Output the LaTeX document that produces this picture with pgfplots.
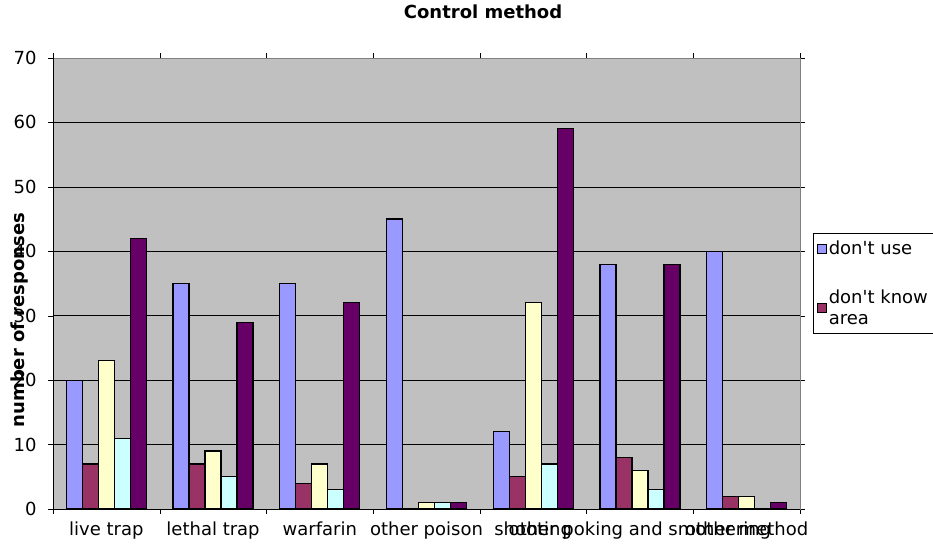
\documentclass[border=0pt]{standalone}
\usepackage{pgfplots}
\pgfplotsset{compat=1.18}
\usepackage{fontspec}
\setmainfont{DejaVu Sans}

\definecolor{cUse}{HTML}{9999FF}
\definecolor{cKnow}{HTML}{993366}
\definecolor{cThree}{HTML}{FFFFCC}
\definecolor{cFour}{HTML}{CCFFFF}
\definecolor{cFive}{HTML}{660066}
\definecolor{plotbg}{HTML}{C0C0C0}
\definecolor{frame}{HTML}{808080}

\begin{document}
\begin{tikzpicture}[font=\fontsize{18bp}{21bp}\selectfont]
\begin{axis}[
  at={(0,0)}, anchor=south west,
  scale only axis,
  width=747bp, height=451bp,
  ybar=0pt, bar width=0.15,
  xmin=-0.5, xmax=6.5, enlarge x limits=false,
  ymin=0, ymax=70, ytick={0,10,...,70},
  xtick={0,...,6},
  xticklabels={live trap,lethal trap,warfarin,other poison,shooting,other poking and smothering,other method},
  minor xtick={-0.5,0.5,...,6.5},
  major x tick style={draw=none},
  minor x tick style={black},
  major y tick style={black},
  tick align=outside,
  major tick length=5bp, minor tick length=5bp,
  ymajorgrids, major grid style={black, line width=0.7bp},
  axis background/.style={fill=plotbg},
  axis line style={frame, line width=0.8bp},
  /pgf/number format/assume math mode=true,
  ticklabel style={font=\fontsize{18bp}{21bp}\selectfont},
  xticklabel style={yshift=-4bp},
  yticklabel style={xshift=-8bp},
  title={\bfseries Control method},
  title style={at={(axis description cs:0.5757,1.089)}, anchor=center, font=\fontsize{18bp}{21bp}\selectfont},
  ylabel={\bfseries number of responses},
  ylabel style={at={(axis description cs:-0.0442,0.419)}, rotate=0, anchor=center, font=\fontsize{18bp}{21bp}\selectfont},
  every axis plot/.append style={draw=black, line width=1.2bp},
  legend style={at={(axis description cs:1.017,0.612)}, anchor=north west,
    draw=black, line width=0.6bp, fill=white,
    font=\fontsize{18bp}{21bp}\selectfont,
    row sep=29bp, inner xsep=4bp, inner ysep=6bp,
    cells={align=left, anchor=west}},
  legend cell align=left,
  legend image code/.code={\draw[#1, line width=0.8bp] (0bp,-4.5bp) rectangle (9bp,4.5bp);},
  after end axis/.code={
    \draw[black, line width=0.8bp] (rel axis cs:0,1) -- (rel axis cs:0,0) -- (rel axis cs:1,0);
  },
]
\addplot[fill=cUse] coordinates {(0,20) (1,35) (2,35) (3,45) (4,12) (5,38) (6,40)};
\addplot[fill=cKnow] coordinates {(0,7) (1,7) (2,4) (3,0) (4,5) (5,8) (6,2)};
\addplot[fill=cThree] coordinates {(0,23) (1,9) (2,7) (3,1) (4,32) (5,6) (6,2)};
\addplot[fill=cFour] coordinates {(0,11) (1,5) (2,3) (3,1) (4,7) (5,3) (6,0)};
\addplot[fill=cFive] coordinates {(0,42) (1,29) (2,32) (3,1) (4,59) (5,38) (6,1)};
\legend{don\textquotesingle t use, {don\textquotesingle t know\\area}}
\end{axis}
\pgfresetboundingbox
\useasboundingbox (-53bp,-41bp) rectangle (880bp,509bp);
\end{tikzpicture}
\end{document}
